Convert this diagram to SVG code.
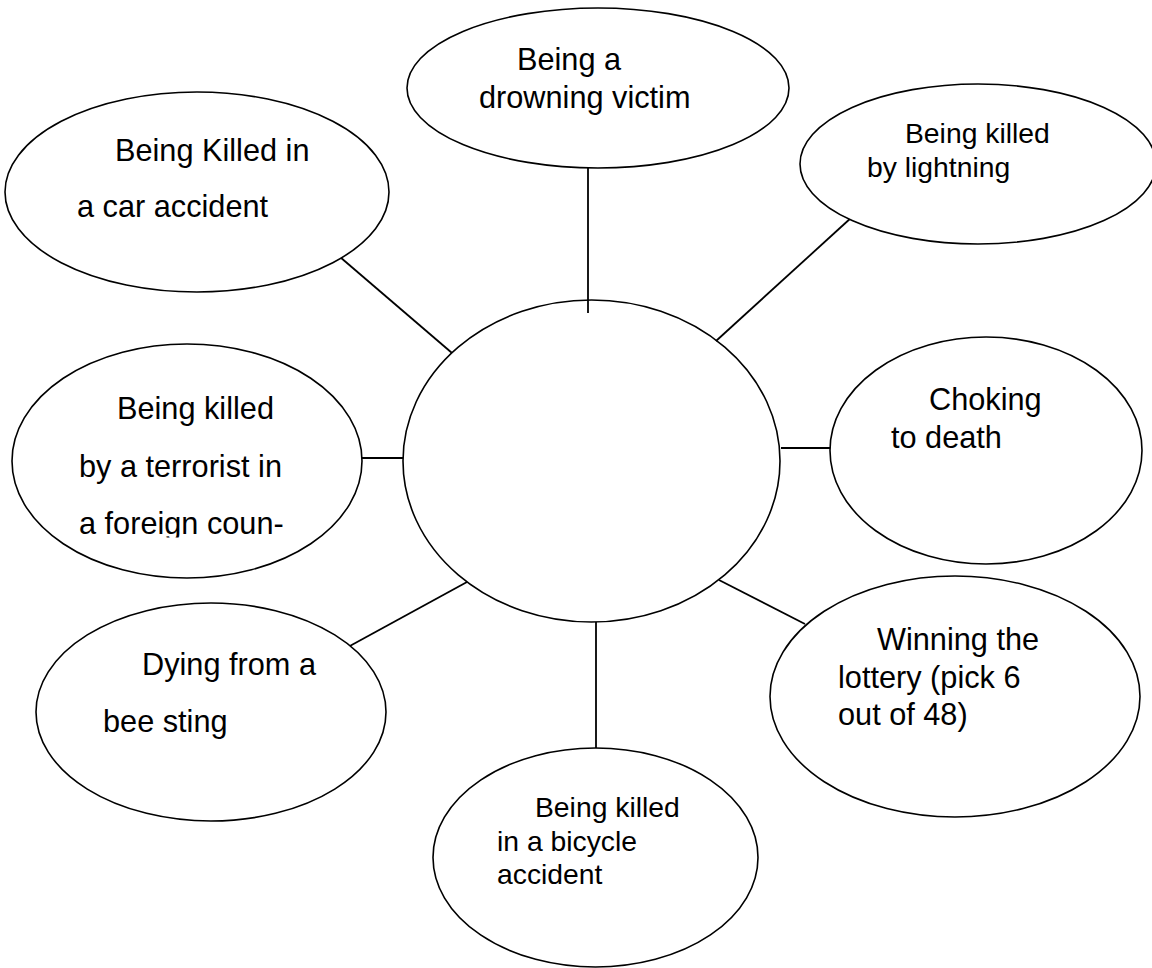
<svg xmlns="http://www.w3.org/2000/svg" width="1152" height="968" viewBox="0 0 1152 968">
<style>
.n{fill:#fff;stroke:#000;stroke-width:1.6}
.c line{stroke:#000;stroke-width:1.8}
text{font-family:"Liberation Sans",Arial,sans-serif;font-size:30.7px;fill:#000}
.s{font-size:28.3px}
</style>
<defs>
<clipPath id="clipT"><rect x="0" y="340" width="400" height="197.5"/></clipPath>
</defs>
<rect width="1152" height="968" fill="#fff"/>
<g id="connectors" class="c">
<line x1="340" y1="257" x2="452" y2="353"/>
<line x1="588" y1="168" x2="588" y2="313"/>
<line x1="852" y1="217" x2="716" y2="341"/>
<line x1="781" y1="448" x2="832" y2="448"/>
<line x1="360" y1="458" x2="403" y2="458"/>
<line x1="719" y1="580" x2="805" y2="624"/>
<line x1="596" y1="622" x2="596" y2="748"/>
<line x1="348" y1="647" x2="467" y2="582"/>
</g>
<g id="center"><ellipse class="n" cx="591.5" cy="461" rx="188.5" ry="161" fill="none" style="fill:none"/></g>
<g id="drowning">
<ellipse class="n" cx="598" cy="88" rx="191" ry="80"/>
<text x="517" y="70">Being a</text>
<text x="479" y="108">drowning victim</text>
</g>
<g id="car">
<ellipse class="n" cx="197" cy="192" rx="192" ry="100"/>
<text x="115" y="161">Being Killed in</text>
<text x="77" y="217">a car accident</text>
</g>
<g id="lightning">
<ellipse class="n" cx="978" cy="164" rx="178" ry="80"/>
<text class="s" x="905" y="143">Being killed</text>
<text class="s" x="867" y="177">by lightning</text>
</g>
<g id="choking">
<ellipse class="n" cx="986" cy="450.5" rx="156" ry="113.5"/>
<text x="929" y="410">Choking</text>
<text x="891" y="448">to death</text>
</g>
<g id="terrorist">
<ellipse class="n" cx="187" cy="461" rx="175" ry="117"/>
<text x="117" y="419">Being killed</text>
<text x="79" y="477">by a terrorist in</text>
<text x="79" y="534" clip-path="url(#clipT)">a foreign coun-</text>
</g>
<g id="bee">
<ellipse class="n" cx="211" cy="712" rx="175" ry="109"/>
<text x="142" y="675">Dying from a</text>
<text x="103" y="732">bee sting</text>
</g>
<g id="lottery">
<ellipse class="n" cx="955" cy="696.5" rx="185" ry="120.5"/>
<text x="877" y="650">Winning the</text>
<text x="838" y="688">lottery (pick 6</text>
<text x="838" y="725">out of 48)</text>
</g>
<g id="bicycle">
<ellipse class="n" cx="595.5" cy="857.5" rx="162.5" ry="109.5"/>
<text class="s" x="535" y="817">Being killed</text>
<text class="s" x="497" y="851">in a bicycle</text>
<text class="s" x="497" y="884">accident</text>
</g>
</svg>
